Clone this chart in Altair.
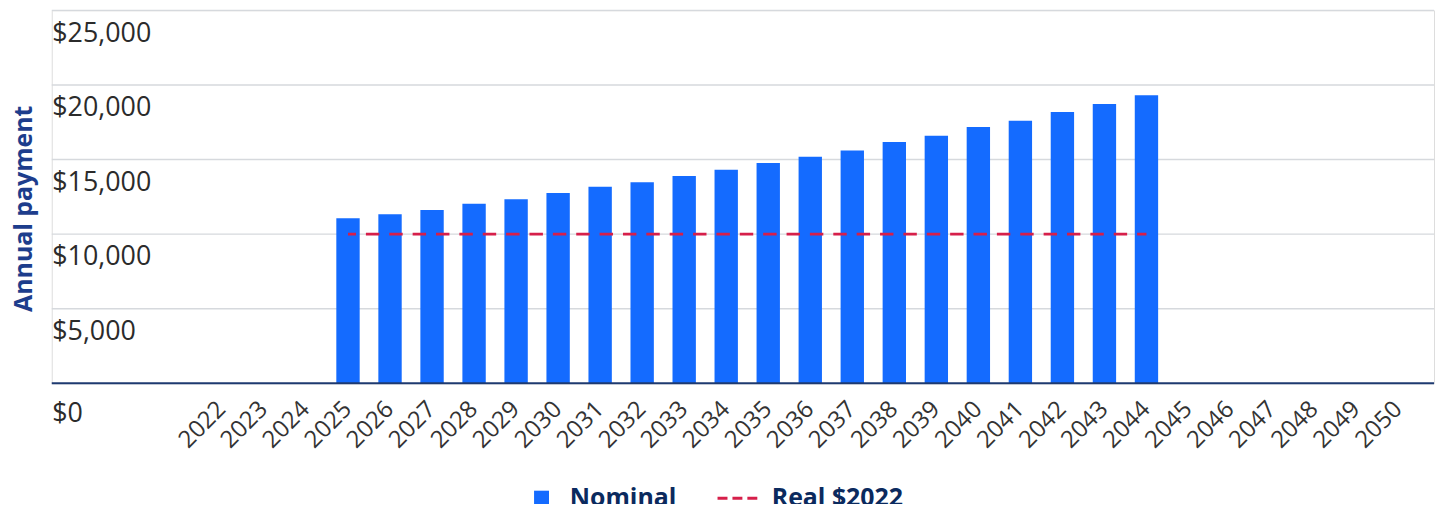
import altair as alt
import pandas as pd

years = [str(y) for y in range(2022, 2051)]
bar_years = [str(y) for y in range(2025, 2045)]
nominal = [11070, 11330, 11620, 12040, 12330, 12760, 13180, 13470, 13890, 14310,
           14760, 15180, 15600, 16180, 16600, 17180, 17600, 18180, 18730, 19310]
real = [10000] * len(bar_years)
y_ticks = [0, 5000, 10000, 15000, 20000, 25000]

df_bar = pd.DataFrame({"year": bar_years, "value": nominal, "series": ["Nominal"] * len(bar_years)})
df_line = pd.DataFrame({"year": bar_years, "value": real, "series2": ["Real $2022"] * len(bar_years)})
df_grid = pd.DataFrame({"value": y_ticks})

FONT = "Open Sans"
W, H = 1390, 375

x_enc = alt.X(
    "year:N",
    scale=alt.Scale(domain=years, range=[150.0, 1375.5], paddingInner=0.444, paddingOuter=0.222),
    axis=alt.Axis(
        title=None, labelAngle=315, labelAlign="right", labelBaseline="middle",
        labelPadding=22, ticks=False, labelFontSize=24, labelFont=FONT, labelColor="#333333",
        domain=False, grid=False, labelOverlap=False,
    ),
)
y_scale = alt.Scale(domain=[0, 25000], nice=False)
y_enc = alt.Y(
    "value:Q",
    scale=y_scale,
    axis=alt.Axis(
        title="Annual payment", values=y_ticks, format="$,.0f", ticks=False, domain=False, grid=False,
        labelAlign="left", labelBaseline="alphabetic", labelPadding=0,
        labelOffset={"condition": {"test": "datum.value === 0", "value": 38}, "value": 31},
        labelFontSize=27, labelFont=FONT, labelColor="#2b2b2b", labelBound=False, labelOverlap=False,
        titleFont=FONT, titleFontSize=25, titleFontWeight="bold", titleColor="#1d3d8c",
        titleAngle=270, titleX=-20, titleY=199, titleAlign="center", titleBaseline="alphabetic",
    ),
)

grid_gray = alt.Chart(df_grid).transform_filter("datum.value > 0").mark_tick(
    orient="horizontal", size=W, thickness=1.5, color="#d6d9dd", opacity=1
).encode(
    y=alt.Y("value:Q", scale=y_scale),
    x=alt.value(W / 2),
)
baseline = alt.Chart(df_grid).transform_filter("datum.value === 0").mark_tick(
    orient="horizontal", size=W, thickness=2, color="#1e3a70", opacity=1
).encode(
    y=alt.Y("value:Q", scale=y_scale),
    x=alt.value(W / 2),
)

bars = alt.Chart(df_bar).mark_bar(color="#146bff").encode(
    x=x_enc,
    y=y_enc,
    color=alt.Color(
        "series:N",
        scale=alt.Scale(domain=["Nominal"], range=["#146bff"]),
        legend=alt.Legend(
            title=None, orient="none", legendX=480, legendY=478, symbolType="square",
            symbolSize=225, labelOffset=16, labelFont=FONT, labelFontSize=25,
            labelFontWeight="bold", labelColor="#0b2a5e", padding=0, symbolStrokeWidth=0,
        ),
    ),
)

line = alt.Chart(df_line).mark_line(strokeWidth=3, strokeDash=[13.5, 10], strokeDashOffset=5.5).encode(
    x=alt.X("year:N"),
    y=alt.Y("value:Q"),
    stroke=alt.Stroke(
        "series2:N",
        scale=alt.Scale(domain=["Real $2022"], range=["#d61f4a"]),
        legend=alt.Legend(
            title=None, orient="none", legendX=668, legendY=469, symbolType="stroke",
            symbolSize=1600, symbolDash=[10, 5], symbolStrokeWidth=3, labelOffset=13,
            labelFont=FONT, labelFontSize=25, labelFontWeight="bold", labelColor="#0b2a5e", padding=0,
        ),
    ),
)

chart = (
    alt.layer(grid_gray, bars, line, baseline)
    .resolve_scale(color="independent")
    .properties(
        width=W, height=H,
        autosize=alt.AutoSizeParams(type="none"),
        padding={"left": 44, "top": 1, "right": 5, "bottom": 120},
    )
    .configure_view(stroke="transparent", strokeWidth=0)
    .configure(font=FONT)
)

chart.save("out.html", embed_options={"renderer": "svg", "actions": False})
